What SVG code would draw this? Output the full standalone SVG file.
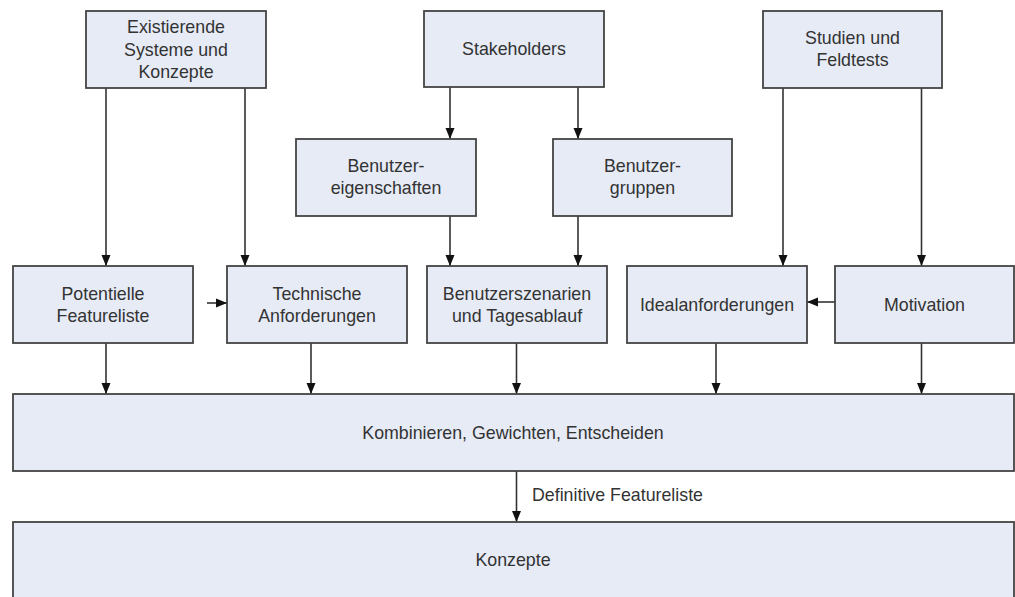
<svg xmlns="http://www.w3.org/2000/svg" width="1015" height="597" viewBox="0 0 1015 597">
<defs>
<marker id="ah" markerUnits="userSpaceOnUse" markerWidth="12" markerHeight="10" refX="11" refY="5" orient="auto">
<path d="M0,0.5 L11,5 L0,9.5 z" fill="#111"/>
</marker>
<style>
.box{fill:#e6ebf6;stroke:#444;stroke-width:1.8}
.t{font-family:"Liberation Sans",Arial,sans-serif;font-size:17.8px;fill:#333;text-anchor:middle}
.c{stroke:#333;stroke-width:1.6;fill:none;marker-end:url(#ah)}
</style>
</defs>
<rect width="1015" height="597" fill="#fff"/>
<g id="connectors">
<line class="c" x1="106" y1="88" x2="106" y2="266"/>
<line class="c" x1="245" y1="88" x2="245" y2="266"/>
<line class="c" x1="207" y1="303" x2="227" y2="303"/>
<line class="c" x1="450" y1="87" x2="450" y2="139"/>
<line class="c" x1="578" y1="87" x2="578" y2="139"/>
<line class="c" x1="450" y1="216" x2="450" y2="266"/>
<line class="c" x1="578" y1="216" x2="578" y2="266"/>
<line class="c" x1="783" y1="88" x2="783" y2="266"/>
<line class="c" x1="921.5" y1="88" x2="921.5" y2="266"/>
<line class="c" x1="835" y1="302" x2="807" y2="302"/>
<line class="c" x1="106" y1="343" x2="106" y2="394"/>
<line class="c" x1="311" y1="343" x2="311" y2="394"/>
<line class="c" x1="516.5" y1="343" x2="516.5" y2="394"/>
<line class="c" x1="716" y1="343" x2="716" y2="394"/>
<line class="c" x1="921.5" y1="343" x2="921.5" y2="394"/>
<line class="c" x1="516.5" y1="471" x2="516.5" y2="522"/>
<text class="t" x="532" y="501" style="text-anchor:start">Definitive Featureliste</text>
</g>
<g id="existierende">
<rect class="box" x="86" y="11" width="180" height="77"/>
<text class="t" x="176" y="33">Existierende</text>
<text class="t" x="176" y="55.5">Systeme und</text>
<text class="t" x="176" y="78">Konzepte</text>
</g>
<g id="stakeholders">
<rect class="box" x="424" y="11" width="180" height="76"/>
<text class="t" x="514" y="54.5">Stakeholders</text>
</g>
<g id="studien">
<rect class="box" x="763" y="11" width="179" height="77"/>
<text class="t" x="852.5" y="44">Studien und</text>
<text class="t" x="852.5" y="66">Feldtests</text>
</g>
<g id="benutzereigenschaften">
<rect class="box" x="296" y="139" width="180" height="77"/>
<text class="t" x="386" y="172">Benutzer-</text>
<text class="t" x="386" y="194">eigenschaften</text>
</g>
<g id="benutzergruppen">
<rect class="box" x="553" y="139" width="179" height="77"/>
<text class="t" x="642.5" y="172">Benutzer-</text>
<text class="t" x="642.5" y="194">gruppen</text>
</g>
<g id="potentielle">
<rect class="box" x="13" y="266" width="180" height="77"/>
<text class="t" x="103" y="299.5">Potentielle</text>
<text class="t" x="103" y="322">Featureliste</text>
</g>
<g id="technische">
<rect class="box" x="227" y="266" width="180" height="77"/>
<text class="t" x="317" y="299.5">Technische</text>
<text class="t" x="317" y="322">Anforderungen</text>
</g>
<g id="szenarien">
<rect class="box" x="427" y="266" width="180" height="77"/>
<text class="t" x="517" y="299.5">Benutzerszenarien</text>
<text class="t" x="517" y="322">und Tagesablauf</text>
</g>
<g id="ideal">
<rect class="box" x="627" y="266" width="180" height="77"/>
<text class="t" x="717" y="310.5">Idealanforderungen</text>
</g>
<g id="motivation">
<rect class="box" x="835" y="266" width="179" height="77"/>
<text class="t" x="924.5" y="310.5">Motivation</text>
</g>
<g id="kombinieren">
<rect class="box" x="13" y="394" width="1001" height="77"/>
<text class="t" x="513" y="439">Kombinieren, Gewichten, Entscheiden</text>
</g>
<g id="konzepte">
<rect class="box" x="13" y="522" width="1001" height="90"/>
<text class="t" x="513" y="566">Konzepte</text>
</g>
</svg>
